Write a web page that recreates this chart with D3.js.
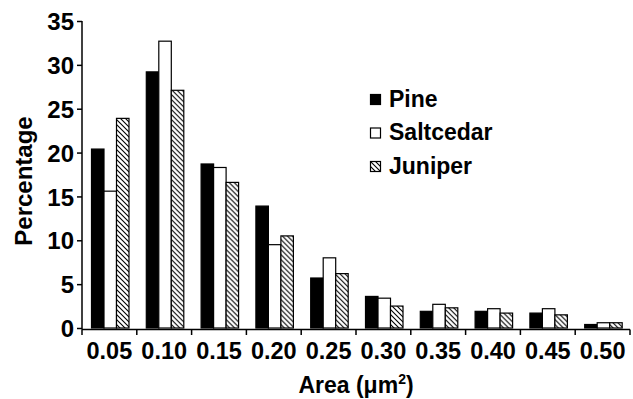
<!DOCTYPE html>
<html>
<head>
<meta charset="utf-8">
<script src="https://cdn.jsdelivr.net/npm/d3@7"></script>
<style>
  html, body { margin: 0; padding: 0; background: #fff; }
  svg text { font-family: "Liberation Sans", Arial, sans-serif; font-weight: bold; fill: #000; }
</style>
</head>
<body>
<svg id="chart" width="633" height="399"></svg>
<script>
// Particle area classes (µm²)
const categories = ["0.05", "0.10", "0.15", "0.20", "0.25", "0.30", "0.35", "0.40", "0.45", "0.50"];
const seriesNames = ["Pine", "Saltcedar", "Juniper"];
const pine      = [20.4, 29.2, 18.7, 13.9, 5.7, 3.6, 1.9, 1.9, 1.7, 0.4];
const saltcedar = [15.6, 32.7, 18.3, 9.5, 8.0, 3.4, 2.7, 2.2, 2.2, 0.6];
const juniper   = [23.9, 27.1, 16.6, 10.5, 6.2, 2.5, 2.3, 1.7, 1.5, 0.6];
const yTicks = [0, 5, 10, 15, 20, 25, 30, 35];

const seriesValues = [pine, saltcedar, juniper];
const rows = categories.map((c, i) => ({
  cat: c,
  vals: seriesNames.map((s, k) => ({ key: s, value: seriesValues[k][i] }))
}));

const svg = d3.select("#chart");

const plotLeft = 82, plotRight = 630, plotTop = 21, zeroY = 328;

const x0 = d3.scaleBand().domain(categories).range([plotLeft, plotRight]).padding(0);
const x1 = d3.scaleBand().domain(seriesNames).range([9.5, 47]).padding(0);
const y = d3.scaleLinear().domain([0, 35]).range([zeroY, plotTop]);

// diagonal hatching for the Juniper bars
const hs = 5;
const defs = svg.append("defs");
const pat = defs.append("pattern")
  .attr("id", "hatch")
  .attr("patternUnits", "userSpaceOnUse")
  .attr("width", hs).attr("height", hs);
pat.append("rect").attr("width", hs).attr("height", hs).attr("fill", "#fff");
pat.append("path")
  .attr("d", `M-1,-1 L${hs + 1},${hs + 1} M-1,${hs - 1} L1,${hs + 1} M${hs - 1},-1 L${hs + 1},1`)
  .attr("stroke", "#000").attr("stroke-width", 1.1);

const fills = { "Pine": "#000", "Saltcedar": "#fff", "Juniper": "url(#hatch)" };

// bars
const groups = svg.append("g").selectAll("g")
  .data(rows).join("g")
  .attr("transform", d => `translate(${x0(d.cat)},0)`);

groups.selectAll("rect")
  .data(d => d.vals).join("rect")
  .attr("x", d => x1(d.key))
  .attr("y", d => y(d.value))
  .attr("width", x1.bandwidth())
  .attr("height", d => zeroY - y(d.value))
  .attr("fill", d => fills[d.key])
  .attr("stroke", "#000")
  .attr("stroke-width", 1.2);

// y axis
const yAxis = d3.axisLeft(y).tickValues(yTicks).tickSize(5).tickPadding(3).tickFormat(d3.format("d"));
const gy = svg.append("g").attr("transform", `translate(${plotLeft},0)`).call(yAxis);
gy.select(".domain").attr("d", `M0,${plotTop}V${zeroY + 1.5}`).attr("stroke", "#000").attr("stroke-width", 1.5);
gy.selectAll(".tick line").attr("stroke", "#000").attr("stroke-width", 1.5);
gy.selectAll(".tick text").attr("font-size", 24).attr("dy", "0.36em")
  .style("font-family", '"Liberation Sans", Arial, sans-serif').style("font-weight", "bold");

// x axis: ticks on category boundaries, labels centred in each band
const xAxisY = zeroY + 1.5;
const gx = svg.append("g");
gx.append("line")
  .attr("x1", plotLeft).attr("x2", plotRight)
  .attr("y1", xAxisY).attr("y2", xAxisY)
  .attr("stroke", "#000").attr("stroke-width", 1.5);
const edges = categories.map(c => x0(c)).concat([x0(categories[categories.length - 1]) + x0.bandwidth()]);
gx.selectAll("line.edge").data(edges).join("line")
  .attr("class", "edge")
  .attr("x1", d => d).attr("x2", d => d)
  .attr("y1", xAxisY).attr("y2", xAxisY + 5.5)
  .attr("stroke", "#000").attr("stroke-width", 1.5);
gx.selectAll("text").data(categories).join("text")
  .attr("x", d => x0(d) + x0.bandwidth() / 2)
  .attr("y", 359)
  .attr("text-anchor", "middle")
  .attr("font-size", 23.5)
  .text(d => d);

// axis titles
const xt = svg.append("text")
  .attr("x", (plotLeft + plotRight) / 2)
  .attr("y", 393)
  .attr("text-anchor", "middle")
  .attr("font-size", 23);
xt.append("tspan").text("Area (μm");
xt.append("tspan").attr("font-size", 14).attr("dy", -9).text("2");
xt.append("tspan").attr("dy", 9).text(")");

svg.append("text")
  .attr("transform", "translate(32,181) rotate(-90)")
  .attr("text-anchor", "middle")
  .attr("font-size", 24)
  .text("Percentage");

// legend
const legend = svg.append("g").selectAll("g")
  .data(seriesNames).join("g")
  .attr("transform", (d, i) => `translate(370,${94 + i * 33.5})`);
legend.append("rect")
  .attr("x", 0.5).attr("y", 0.5)
  .attr("width", 10).attr("height", 10)
  .attr("fill", d => fills[d])
  .attr("stroke", "#000").attr("stroke-width", 1.2);
legend.append("text")
  .attr("x", 19).attr("y", 12.5)
  .attr("font-size", 23)
  .text(d => d);
</script>
</body>
</html>
